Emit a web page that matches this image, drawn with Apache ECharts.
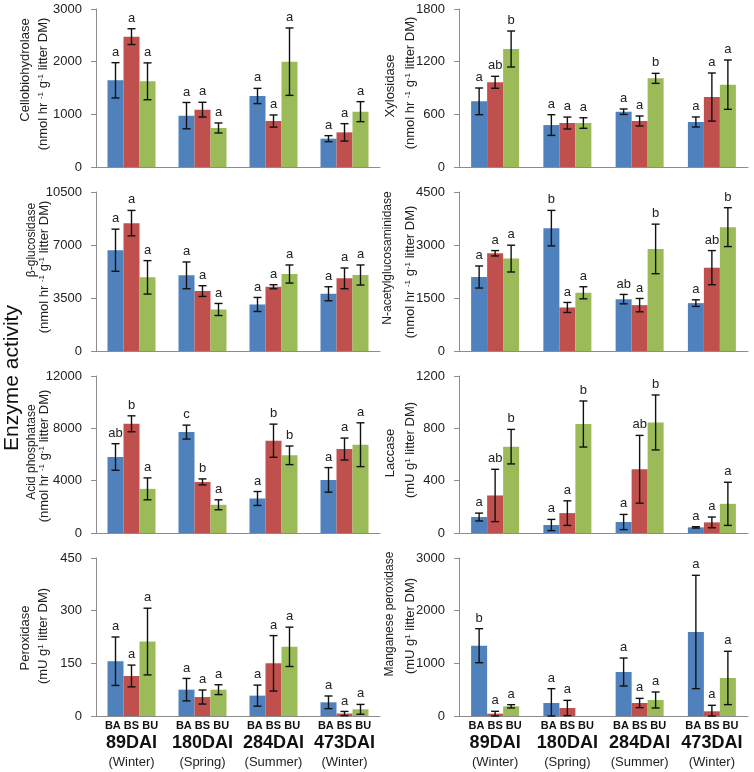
<!DOCTYPE html>
<html>
<head>
<meta charset="utf-8">
<script src="https://cdn.jsdelivr.net/npm/echarts/dist/echarts.min.js"></script>
<style>
  html, body { margin: 0; padding: 0; background: #fff; }
  #chart { width: 754px; height: 772px; }
</style>
</head>
<body>
<div id="chart"></div>
<script>
const groups = ['89DAI', '180DAI', '284DAI', '473DAI'];
const seasons = ['(Winter)', '(Spring)', '(Summer)', '(Winter)'];
const treatments = ['BA', 'BS', 'BU'];
const colors = ['#4f81bd', '#c0504d', '#9bbb59'];

// rows are BA, BS, BU; columns follow groups
const cbhMean = [[1646, 975, 1348, 538], [2475, 1089, 873, 658], [1627, 741, 2000, 1051]];
const cbhErr = [[335, 250, 145, 57], [150, 140, 115, 165], [350, 95, 640, 190]];
const cbhSig = [['a', 'a', 'a', 'a'], ['a', 'a', 'a', 'a'], ['a', 'a', 'a', 'a']];

const xylMean = [[748, 478, 630, 513], [965, 501, 524, 797], [1344, 501, 1010, 938]];
const xylErr = [[152, 118, 31, 57], [68, 68, 57, 274], [205, 60, 57, 281]];
const xylSig = [['a', 'a', 'a', 'a'], ['ab', 'a', 'a', 'a'], ['b', 'a', 'b', 'a']];

const bgMean = [[6654, 4996, 3073, 3780], [8444, 3957, 4244, 4797], [4863, 2741, 5084, 5018]];
const bgErr = [[1392, 884, 464, 464], [840, 354, 133, 685], [1105, 398, 597, 663]];
const bgSig = [['a', 'a', 'a', 'a'], ['a', 'a', 'a', 'a'], ['a', 'a', 'a', 'a']];

const nagMean = [[2094, 3477, 1468, 1355], [2766, 1232, 1298, 2359], [2615, 1648, 2889, 3505]];
const nagErr = [[312, 502, 133, 94], [76, 142, 189, 483], [379, 171, 701, 550]];
const nagSig = [['a', 'b', 'ab', 'a'], ['a', 'a', 'a', 'ab'], ['a', 'a', 'b', 'b']];

const apMean = [[5810, 7712, 2638, 4059], [8347, 3907, 7053, 6419], [3374, 2156, 5937, 6748]];
const apErr = [[1015, 533, 533, 939], [609, 228, 1268, 837], [837, 381, 710, 1675]];
const apSig = [['ab', 'c', 'a', 'a'], ['b', 'b', 'b', 'a'], ['a', 'a', 'b', 'a']];

const lacMean = [[122, 61, 84, 43], [287, 152, 487, 81], [660, 833, 845, 223]];
const lacErr = [[30, 43, 58, 5], [200, 94, 259, 41], [132, 176, 210, 165]];
const lacSig = [['a', 'a', 'a', 'a'], ['ab', 'a', 'ab', 'a'], ['b', 'b', 'b', 'a']];

const perMean = [[156, 75, 58, 39], [114, 54, 150, 7], [212, 75, 197, 19]];
const perErr = [[69, 32, 30, 18], [31, 20, 79, 6], [95, 14, 56, 14]];
const perSig = [['a', 'a', 'a', 'a'], ['a', 'a', 'a', 'a'], ['a', 'a', 'a', 'a']];

const mnpMean = [[1335, 247, 835, 1595], [44, 152, 247, 89], [184, 0, 304, 722]];
const mnpErr = [[323, 272, 266, 1076], [45, 145, 88, 114], [31, 0, 152, 506]];
const mnpSig = [['b', 'a', 'a', 'a'], ['a', 'a', 'a', 'a'], ['a', '', 'a', 'a']];

const NMOL = '(nmol hr {sup|-1} g{sup|-1} litter DM)';
const MU = '(mU g{sup|1} litter DM)';

const panels = [
  { title: 'Cellobiohydrolase', unit: NMOL, max: 3000, step: 1000, mean: cbhMean, err: cbhErr, sig: cbhSig },
  { title: 'Xylosidase', unit: NMOL, max: 1800, step: 600, mean: xylMean, err: xylErr, sig: xylSig },
  { title: 'β-glucosidase', unit: NMOL, max: 10500, step: 3500, mean: bgMean, err: bgErr, sig: bgSig },
  { title: 'N-acetylglucosaminidase', unit: NMOL, max: 4500, step: 1500, mean: nagMean, err: nagErr, sig: nagSig },
  { title: 'Acid phosphatase', unit: NMOL, max: 12000, step: 4000, mean: apMean, err: apErr, sig: apSig },
  { title: 'Laccase', unit: MU, max: 1200, step: 400, mean: lacMean, err: lacErr, sig: lacSig },
  { title: 'Peroxidase', unit: MU, max: 450, step: 150, mean: perMean, err: perErr, sig: perSig },
  { title: 'Manganese peroxidase', unit: MU, max: 3000, step: 1000, mean: mnpMean, err: mnpErr, sig: mnpSig }
];

// layout
const FONT = '"Liberation Sans", Arial, sans-serif';
const BAR_W = 16;
const colLeft = [96, 459];
const colWidth = [284, 289];
const rowTop = [9, 192, 376, 558];
const rowHeight = [158, 159, 157, 158];
// [title x, title y, title size, unit x, unit y]
const namePos = [
  [25, 70, 13, 43, 84], [390, 86, 13, 410, 83],
  [32, 240, 12, 44, 267], [388, 258, 12, 410, 272],
  [32, 452, 12, 44, 456], [390, 453, 13, 410, 450],
  [25, 638, 13, 43, 636], [390, 614, 12, 410, 626]
];

function errorBars(j, sig) {
  return function (params, api) {
    const i = api.value(0);
    const m = api.value(1);
    const e = api.value(2);
    const x = api.coord([i, m])[0] + (j - 1) * BAR_W;
    const top = api.coord([i, m + e])[1];
    const bot = api.coord([i, Math.max(m - e, 0)])[1];
    const stroke = { stroke: '#111', lineWidth: 1.4 };
    const kids = [];
    if (e > 0) {
      kids.push({ type: 'line', shape: { x1: x, y1: top, x2: x, y2: bot }, style: stroke });
      kids.push({ type: 'line', shape: { x1: x - 4, y1: top, x2: x + 4, y2: top }, style: stroke });
      kids.push({ type: 'line', shape: { x1: x - 4, y1: bot, x2: x + 4, y2: bot }, style: stroke });
    }
    const letter = sig[params.dataIndex];
    if (letter) {
      kids.push({
        type: 'text',
        style: {
          text: letter, x: x, y: top - 4, align: 'center', verticalAlign: 'bottom',
          font: '13px ' + FONT, fill: '#222'
        }
      });
    }
    return { type: 'group', children: kids };
  };
}

const grid = [], xAxis = [], yAxis = [], series = [], graphic = [];

panels.forEach((p, k) => {
  const col = k % 2;
  const row = Math.floor(k / 2);
  const last = row === 3;
  const axisColor = '#8c8c8c';

  grid.push({ left: colLeft[col], top: rowTop[row], width: colWidth[col], height: rowHeight[row] });

  xAxis.push({
    type: 'category', gridIndex: k, data: groups,
    axisLine: { lineStyle: { color: axisColor, width: 1 } },
    axisTick: { length: 5, lineStyle: { color: axisColor } },
    axisLabel: last ? {
      interval: 0, margin: 3,
      formatter: (v, i) => '{t|' + treatments.join(' ') + '}\n{d|' + v + '}\n{s|' + seasons[i] + '}',
      rich: {
        t: { fontSize: 11, fontWeight: 'bold', lineHeight: 13, color: '#111', fontFamily: FONT },
        d: { fontSize: 18, fontWeight: 'bold', lineHeight: 22, color: '#111', fontFamily: FONT },
        s: { fontSize: 13, lineHeight: 16, color: '#222', fontFamily: FONT }
      }
    } : { show: false }
  });

  yAxis.push({
    type: 'value', gridIndex: k, min: 0, max: p.max, interval: p.step,
    splitLine: { show: false },
    axisLine: { show: true, lineStyle: { color: axisColor, width: 1 } },
    axisTick: { show: true, length: 5, lineStyle: { color: axisColor } },
    axisLabel: { fontSize: 13, color: '#222', margin: 14, fontFamily: FONT, formatter: v => String(v) }
  });

  treatments.forEach((t, j) => {
    series.push({
      type: 'bar', name: t, xAxisIndex: k, yAxisIndex: k,
      data: p.mean[j], barWidth: BAR_W, barGap: '0%',
      itemStyle: { color: colors[j] }
    });
  });
  treatments.forEach((t, j) => {
    series.push({
      type: 'custom', xAxisIndex: k, yAxisIndex: k, z: 5, clip: false,
      encode: { x: 0, y: 1 },
      data: groups.map((g, i) => [i, p.mean[j][i], p.err[j][i]]),
      renderItem: errorBars(j, p.sig[j])
    });
  });

  const pos = namePos[k];
  graphic.push({
    type: 'text', x: pos[0], y: pos[1], rotation: Math.PI / 2,
    style: { text: p.title, align: 'center', verticalAlign: 'middle', font: pos[2] + 'px ' + FONT, fill: '#222' }
  });
  graphic.push({
    type: 'text', x: pos[3], y: pos[4], rotation: Math.PI / 2,
    style: {
      text: p.unit, align: 'center', verticalAlign: 'middle', font: '13px ' + FONT, fill: '#222',
      rich: { sup: { fontSize: 8, verticalAlign: 'top', fill: '#222', fontFamily: FONT } }
    }
  });
});

graphic.push({
  type: 'text', x: 12, y: 378, rotation: Math.PI / 2,
  style: { text: 'Enzyme activity', align: 'center', verticalAlign: 'middle', font: '21px ' + FONT, fill: '#111' }
});

const chart = echarts.init(document.getElementById('chart'));
chart.setOption({
  animation: false,
  textStyle: { fontFamily: FONT },
  grid: grid,
  xAxis: xAxis,
  yAxis: yAxis,
  series: series,
  graphic: graphic
});
</script>
</body>
</html>
